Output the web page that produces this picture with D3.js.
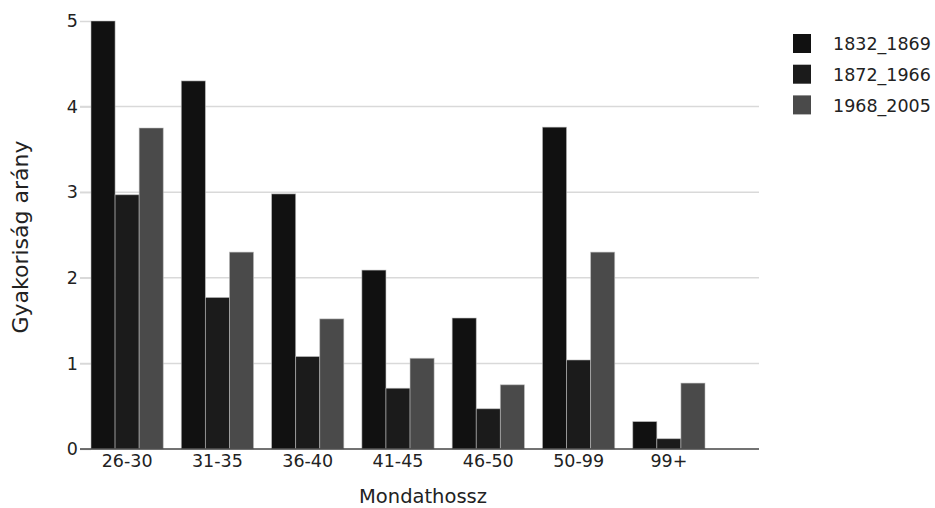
<!DOCTYPE html>
<html lang="hu">
<head>
    <meta charset="UTF-8">
    <title>Gyakoriság arány</title>
    <script src="https://cdnjs.cloudflare.com/ajax/libs/d3/7.8.5/d3.min.js"></script>
    <style>
        body { margin: 0; background: #fff; }
        svg { display: block; font-family: "DejaVu Sans", Verdana, sans-serif; }
        .grid line { stroke: #d9d9d9; stroke-width: 1.5px; }
        .tick text { fill: #222; }
    </style>
</head>
<body>
<svg id="chart" width="935" height="508"></svg>
<script>
    // data
    const categories = ["26-30", "31-35", "36-40", "41-45", "46-50", "50-99", "99+"];
    const seriesNames = ["1832_1869", "1872_1966", "1968_2005"];
    const s1832 = [5.0, 4.3, 2.98, 2.09, 1.53, 3.76, 0.32];
    const s1872 = [2.97, 1.77, 1.08, 0.71, 0.47, 1.04, 0.12];
    const s1968 = [3.75, 2.3, 1.52, 1.06, 0.75, 2.3, 0.77];
    const yTicks = [0, 1, 2, 3, 4, 5];
    const colors = ["#111111", "#1b1b1b", "#4a4a4a"];

    const seriesValues = [s1832, s1872, s1968];
    const fontFam = "'DejaVu Sans', Verdana, sans-serif";

    const svg = d3.select("#chart");
    const mLeft = 91, mRight = 759, mTop = 21, mBottom = 449;

    const x = d3.scaleBand().domain(categories).range([mLeft, 705]).paddingInner(0.2).paddingOuter(0);
    const xSub = d3.scaleBand().domain(seriesNames).range([0, x.bandwidth()]);
    const y = d3.scaleLinear().domain([0, 5]).range([mBottom, mTop]);

    // gridlines (no line at top)
    svg.append("g").attr("class", "grid")
        .selectAll("line").data(yTicks.filter(d => d > 0 && d < 5)).join("line")
        .attr("x1", 80).attr("x2", mRight)
        .attr("y1", d => y(d)).attr("y2", d => y(d));

    // y ticks
    const yAxis = svg.append("g").attr("transform", `translate(${mLeft},0)`)
        .call(d3.axisLeft(y).tickValues(yTicks).tickFormat(d3.format("d")).tickSize(11).tickPadding(2))
        .attr("font-family", fontFam).attr("font-size", "17.5px");
    yAxis.select(".domain").remove();
    yAxis.selectAll(".tick line").attr("stroke", "#d9d9d9").attr("stroke-width", 1.5);

    // bars
    const groups = svg.append("g").selectAll("g").data(categories).join("g")
        .attr("transform", d => `translate(${x(d)},0)`);
    groups.selectAll("rect")
        .data((c, i) => seriesNames.map((s, k) => ({ s, k, v: seriesValues[k][i] })))
        .join("rect")
        .attr("x", d => xSub(d.s))
        .attr("y", d => y(d.v))
        .attr("width", xSub.bandwidth())
        .attr("height", d => mBottom - y(d.v))
        .attr("fill", d => colors[d.k])
        .attr("stroke", "rgba(190,190,190,0.7)")
        .attr("stroke-width", 0.8);

    // x axis
    svg.append("line")
        .attr("x1", 80).attr("x2", mRight).attr("y1", mBottom).attr("y2", mBottom)
        .attr("stroke", "#444").attr("stroke-width", 1.5);
    const xAxis = svg.append("g").attr("transform", `translate(0,${mBottom})`)
        .call(d3.axisBottom(x).tickSize(0).tickPadding(6))
        .attr("font-family", fontFam).attr("font-size", "17.5px");
    xAxis.select(".domain").remove();

    // axis titles
    svg.append("text")
        .attr("x", (mLeft + mRight) / 2 - 2).attr("y", 503)
        .attr("text-anchor", "middle").attr("font-size", "19.5px").attr("fill", "#222")
        .text("Mondathossz");
    svg.append("text")
        .attr("transform", `translate(28,${(mTop + mBottom) / 2 + 2}) rotate(-90)`)
        .attr("text-anchor", "middle").attr("font-size", "22px").attr("fill", "#222")
        .text("Gyakoriság arány");

    // legend
    const legend = svg.append("g").selectAll("g").data(seriesNames).join("g")
        .attr("transform", (d, i) => `translate(793,${34 + i * 30.7})`);
    legend.append("rect").attr("width", 18).attr("height", 19)
        .attr("fill", (d, i) => colors[i]);
    legend.append("text").attr("x", 40).attr("y", 10).attr("dy", "0.35em")
        .attr("font-size", "17.5px").attr("fill", "#222").text(d => d);
</script>
</body>
</html>
